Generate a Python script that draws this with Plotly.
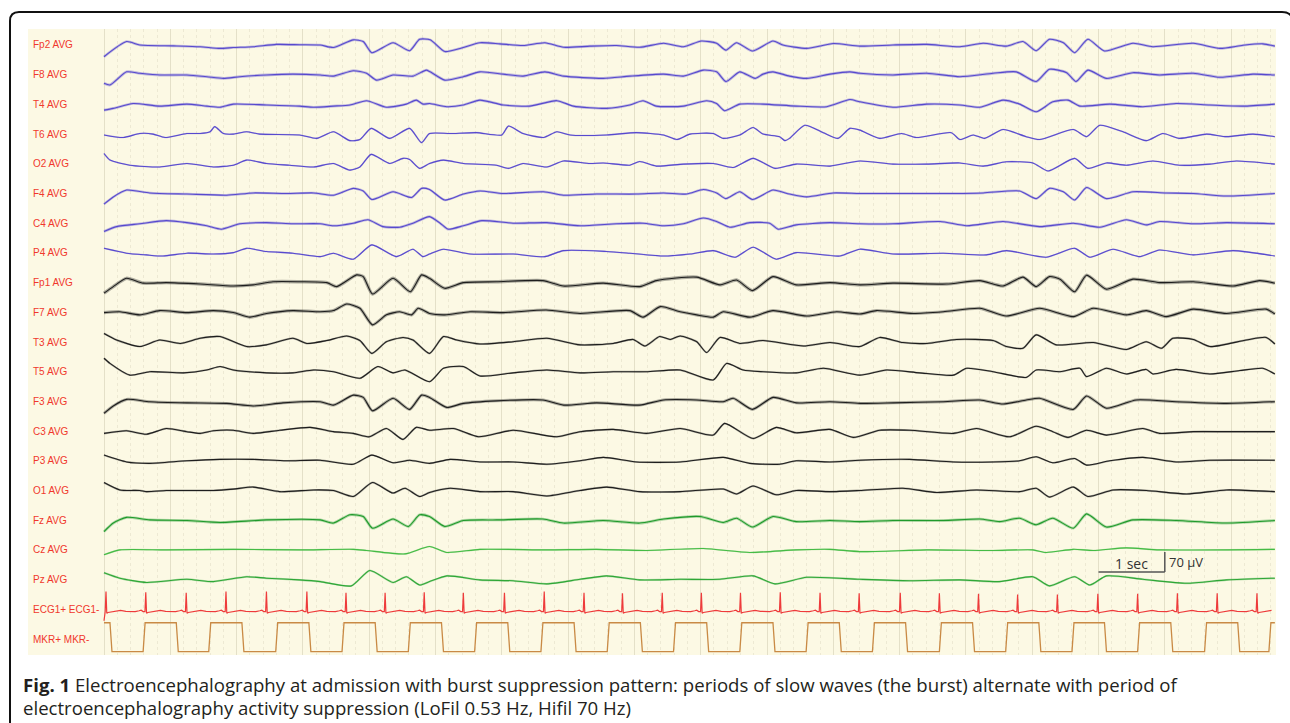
import plotly.graph_objects as go

# ---------------- data (time in s, amplitude in µV) ----------------
CHANNEL_NAMES = ["Fp2 AVG", "F8 AVG", "T4 AVG", "T6 AVG", "O2 AVG", "F4 AVG", "C4 AVG", "P4 AVG",
                 "Fp1 AVG", "F7 AVG", "T3 AVG", "T5 AVG", "F3 AVG", "C3 AVG", "P3 AVG", "O1 AVG",
                 "Fz AVG", "Cz AVG", "Pz AVG", "ECG1+ ECG1-", "MKR+ MKR-"]

FP2 = [(0,-41),(0.34,12),(0.54,0),(1.05,-3),(1.45,-6),(1.75,-12),(1.95,-9),(2.25,-6),(2.6,2),(2.95,1),(3.26,0),(3.46,-9),(3.76,18),(3.91,12),(4.04,-27),(4.36,8),(4.61,-20),(4.76,20),(4.92,18),(5.14,-23),(5.37,-12),(5.67,8),(5.97,4),(6.32,-2),(6.65,8),(6.93,-8),(7.33,-4),(7.73,-2),(8.08,-8),(8.44,6),(8.74,-6),(9.01,14),(9.24,6),(9.38,-18),(9.54,8),(9.78,-21),(10.09,14),(10.24,0),(10.6,-12),(11.0,5),(11.4,-4),(11.9,0),(12.41,2),(12.91,-6),(13.26,6),(13.61,-4),(13.86,12),(14.06,-20),(14.26,20),(14.47,8),(14.64,-27),(14.84,20),(15.09,-21),(15.52,6),(15.82,-6),(16.43,6),(16.83,-12),(17.18,-1),(17.48,4),(17.66,-4)]
F8 = [(0,-30),(0.09,-36),(0.34,10),(0.54,5),(0.84,-1),(1.25,-1),(1.55,-7),(1.8,-13),(2.05,-7),(2.45,-1),(2.85,2),(3.26,-1),(3.46,-5),(3.76,14),(3.96,5),(4.11,-19),(4.36,-1),(4.66,-5),(4.86,16),(4.92,10),(5.14,-19),(5.42,-7),(5.67,10),(6.02,2),(6.32,-5),(6.65,10),(6.93,-5),(7.53,-13),(7.93,-5),(8.44,2),(8.74,-5),(9.04,16),(9.24,10),(9.38,-24),(9.59,10),(9.82,-13),(9.94,2),(10.09,10),(10.34,-5),(10.6,-13),(10.95,2),(11.25,10),(11.4,5),(11.9,-1),(12.41,5),(12.91,-7),(13.41,5),(13.76,10),(14.06,-24),(14.26,19),(14.52,7),(14.66,-24),(14.84,16),(15.12,-13),(15.52,7),(15.92,-1),(16.43,5),(16.83,-9),(17.33,2),(17.66,-1)]
T4 = [(0,-20),(0.14,-14),(0.44,3),(0.84,-6),(1.25,1),(1.55,-6),(1.75,-10),(1.95,1),(2.45,-2),(2.95,-6),(3.16,-10),(3.46,-6),(3.71,-2),(3.96,13),(4.26,-10),(4.56,1),(4.71,15),(4.81,1),(4.91,3),(5.17,-8),(5.42,-2),(5.67,15),(6.02,-2),(6.42,-6),(6.83,13),(7.08,-6),(7.58,-14),(7.93,-2),(8.13,13),(8.33,-6),(8.74,-6),(9.09,13),(9.24,3),(9.36,-22),(9.59,1),(9.94,1),(10.44,-6),(10.9,-8),(11.25,17),(11.4,9),(11.9,-10),(12.41,1),(12.91,-2),(13.21,-10),(13.56,15),(13.81,1),(14.06,-26),(14.31,9),(14.54,15),(14.72,-6),(15.17,1),(15.67,-8),(16.17,3),(16.68,-2),(17.18,-6),(17.66,1)]
T6 = [(0,-3),(0.29,-12),(0.54,2),(0.74,0),(0.92,-12),(1.25,2),(1.45,2),(1.6,8),(1.67,26),(1.8,2),(1.95,0),(2.15,8),(2.35,0),(2.95,-3),(3.21,-15),(3.46,8),(3.71,-23),(3.86,-19),(4.03,20),(4.31,-15),(4.61,20),(4.79,-30),(4.91,2),(5.22,2),(5.62,5),(6.0,-3),(6.1,28),(6.32,2),(6.63,-12),(6.83,8),(7.03,-3),(7.58,-3),(8.03,5),(8.44,-3),(8.64,-19),(8.84,0),(9.19,2),(9.34,-15),(9.59,-3),(9.79,23),(9.94,0),(10.19,-9),(10.27,-23),(10.34,-15),(10.57,31),(10.85,5),(11.07,-15),(11.25,20),(11.4,14),(11.7,-15),(12.03,2),(12.25,-12),(12.78,5),(12.91,-19),(13.11,-3),(13.28,-15),(13.56,16),(13.91,-9),(14.11,-19),(14.62,16),(14.82,-9),(15.02,31),(15.37,8),(15.72,-23),(15.97,2),(16.22,-15),(16.63,0),(16.93,-9),(17.33,0),(17.66,-9)]
O2 = [(0,36),(0.09,13),(0.39,-5),(0.84,-11),(1.25,1),(1.65,-11),(1.95,-5),(2.15,13),(2.45,1),(2.8,-5),(3.16,-11),(3.46,1),(3.71,-22),(3.86,-11),(4.03,33),(4.31,1),(4.51,19),(4.61,15),(4.76,-16),(4.91,1),(5.12,13),(5.42,1),(5.92,-5),(6.1,-16),(6.32,1),(6.68,-11),(6.93,10),(7.33,1),(7.53,3),(7.93,-5),(8.08,8),(8.33,-8),(8.74,-1),(9.19,1),(9.49,-13),(9.79,19),(10.12,-16),(10.44,-1),(10.95,-8),(11.4,10),(11.9,-1),(12.41,-1),(12.91,3),(13.26,-8),(13.61,7),(14.01,3),(14.24,-25),(14.64,19),(14.84,-16),(15.12,3),(15.42,-5),(15.82,10),(16.22,-5),(16.68,-1),(17.08,10),(17.66,-1)]
F4 = [(0,-37),(0.14,-12),(0.34,12),(0.69,2),(1.25,-2),(1.85,-6),(2.25,2),(2.75,0),(3.16,2),(3.46,-6),(3.76,18),(3.91,9),(4.04,-21),(4.36,6),(4.64,-14),(4.79,18),(4.91,14),(5.14,-23),(5.42,-2),(5.67,9),(6.02,0),(6.63,6),(6.93,-6),(7.43,-2),(8.03,-2),(8.44,2),(8.79,-2),(9.04,14),(9.24,2),(9.38,-18),(9.59,6),(9.78,-21),(10.09,12),(10.34,-2),(10.6,-12),(11.0,2),(11.4,0),(11.9,0),(12.66,0),(13.26,2),(13.81,9),(14.06,-18),(14.26,18),(14.47,6),(14.64,-23),(14.82,21),(15.12,-18),(15.52,6),(16.02,2),(16.43,0),(16.93,-9),(17.66,0)]
C4 = [(0,-29),(0.19,-12),(0.54,-2),(0.94,9),(1.25,2),(1.55,-9),(1.77,-21),(2.05,-2),(2.45,2),(2.85,-2),(3.26,-2),(3.46,-9),(3.76,0),(3.98,12),(4.21,-12),(4.46,-14),(4.66,0),(4.91,23),(5.07,0),(5.19,-21),(5.42,-9),(5.7,9),(6.17,0),(6.68,2),(7.18,-9),(7.73,-2),(8.13,0),(8.44,-9),(8.74,-2),(9.04,18),(9.24,6),(9.44,-14),(9.74,2),(10.04,0),(10.17,-21),(10.44,-6),(10.95,2),(11.4,-2),(11.9,-2),(12.61,6),(13.01,-9),(13.56,6),(14.11,-12),(14.62,0),(15.02,-14),(15.42,12),(15.72,-6),(15.92,6),(16.43,-2),(16.93,2),(17.66,-2)]
P4 = [(0,16),(0.34,-1),(0.64,-7),(0.89,-11),(1.25,-1),(1.65,-4),(1.95,1),(2.15,16),(2.45,5),(2.85,-1),(3.26,-13),(3.46,-1),(3.76,-22),(4.04,28),(4.41,-13),(4.66,13),(4.81,-13),(4.91,-4),(5.12,13),(5.52,-4),(6.17,-4),(6.65,-13),(6.93,8),(7.58,5),(7.93,-1),(8.44,-11),(8.84,-4),(9.19,8),(9.52,-15),(9.79,20),(10.14,-22),(10.44,1),(11.1,-11),(11.4,13),(11.9,-4),(12.66,-1),(13.31,-7),(13.61,8),(14.21,-15),(14.64,16),(14.87,-15),(15.22,13),(15.62,-13),(15.92,10),(16.43,-7),(17.03,8),(17.66,-11)]
FP1 = [(0,-37),(0.14,-14),(0.34,15),(0.59,-2),(0.94,0),(1.45,-5),(1.95,-12),(2.25,-8),(2.55,3),(2.95,3),(3.36,0),(3.51,-14),(3.81,27),(3.91,21),(4.05,-40),(4.36,15),(4.62,-32),(4.79,27),(4.91,15),(5.14,-20),(5.42,0),(5.92,3),(6.62,7),(6.93,-12),(7.53,-2),(8.08,-14),(8.33,7),(8.94,19),(9.29,-8),(9.54,9),(9.78,-28),(10.09,21),(10.44,-8),(10.95,0),(11.4,-8),(11.9,-2),(12.71,-5),(13.21,7),(13.56,-12),(13.86,19),(14.06,-14),(14.26,21),(14.42,12),(14.64,-32),(14.82,26),(15.12,-23),(15.52,12),(15.92,0),(16.43,3),(17.03,-12),(17.43,7),(17.66,-2)]
F7 = [(0,-1),(0.24,2),(0.54,-9),(0.84,6),(1.25,-1),(1.65,6),(1.95,-1),(2.2,-17),(2.45,-4),(2.85,6),(3.26,2),(3.46,6),(3.66,29),(3.86,14),(4.05,-44),(4.26,-9),(4.46,2),(4.64,-9),(4.74,14),(4.91,-4),(5.14,-9),(5.52,2),(6.02,-1),(6.67,8),(7.18,-4),(7.93,6),(8.13,-17),(8.39,20),(8.69,2),(8.94,-9),(9.19,-17),(9.34,2),(9.74,-17),(10.09,6),(10.6,-13),(11.05,2),(11.4,-6),(11.65,6),(12.2,-4),(12.66,2),(13.21,14),(13.61,-13),(14.11,14),(14.62,-15),(14.92,14),(15.42,-9),(15.72,6),(16.02,-15),(16.43,11),(16.93,-4),(17.53,11),(17.66,-6)]
T3 = [(0,30),(0.19,7),(0.54,-16),(0.84,7),(1.15,-5),(1.45,13),(1.75,19),(2.15,-16),(2.45,-10),(2.85,13),(3.06,-5),(3.36,5),(3.66,21),(3.86,5),(4.04,-40),(4.26,1),(4.51,16),(4.66,7),(4.91,-40),(5.12,19),(5.32,7),(5.67,-7),(6.17,1),(6.68,13),(7.18,-10),(7.68,-5),(7.98,9),(8.16,-14),(8.38,19),(8.54,9),(8.69,21),(8.94,1),(9.09,-37),(9.29,16),(9.59,-5),(9.94,5),(10.55,-14),(10.95,-2),(11.4,-16),(11.7,16),(12.05,-2),(12.41,-5),(12.86,9),(13.41,5),(13.61,-16),(13.86,-22),(14.06,25),(14.36,-10),(14.92,-2),(15.42,-26),(15.72,1),(15.95,-22),(16.12,13),(16.43,9),(16.68,-16),(17.23,7),(17.53,16),(17.66,-7)]
T5 = [(0,47),(0.09,29),(0.39,-12),(0.69,0),(1.2,-4),(1.55,6),(1.75,18),(1.95,6),(2.45,-4),(2.85,-4),(3.16,6),(3.46,0),(3.86,-23),(4.13,18),(4.36,-4),(4.54,6),(4.91,-35),(5.12,12),(5.42,18),(5.67,-15),(6.17,-4),(6.68,6),(7.18,-4),(7.68,0),(8.18,0),(8.69,6),(9.19,-29),(9.39,29),(9.64,6),(9.94,0),(10.44,-4),(10.85,12),(11.4,-12),(11.8,6),(12.3,-4),(12.81,-12),(13.01,12),(13.41,0),(13.91,-20),(14.06,6),(14.42,0),(14.72,12),(14.82,-17),(15.12,12),(15.42,-8),(15.72,8),(15.82,-8),(16.17,8),(16.68,-8),(17.13,4),(17.48,12),(17.66,-8)]
F3 = [(0,-42),(0.14,-16),(0.34,7),(0.69,-1),(1.25,-5),(1.85,-7),(2.25,-16),(2.7,-5),(3.26,-1),(3.46,-13),(3.76,22),(3.91,14),(4.05,-33),(4.36,11),(4.61,-28),(4.79,22),(4.91,14),(5.17,-21),(5.42,-7),(5.92,2),(6.62,5),(6.93,-13),(7.43,-5),(8.08,-13),(8.44,5),(8.94,5),(9.34,-1),(9.49,11),(9.78,-28),(10.09,14),(10.44,-5),(10.95,-1),(11.4,-7),(11.9,-5),(12.66,-1),(13.21,5),(13.56,-9),(13.91,5),(14.11,11),(14.62,-28),(14.82,19),(15.12,-24),(15.57,5),(16.17,-1),(16.93,-7),(17.66,-1)]
C3 = [(0,-8),(0.34,1),(0.64,-11),(0.94,9),(1.25,-2),(1.45,-8),(1.65,1),(1.95,3),(2.25,-8),(2.65,3),(3.11,13),(3.46,-2),(3.76,-8),(4.0,-20),(4.26,9),(4.51,-29),(4.71,13),(4.91,3),(5.27,9),(5.65,-20),(6.17,3),(6.83,-20),(7.18,-2),(7.68,6),(8.18,-8),(8.69,9),(9.19,-14),(9.36,27),(9.79,-26),(10.14,13),(10.44,-6),(10.95,6),(11.3,-22),(11.7,3),(12.15,3),(12.81,-8),(13.16,9),(13.66,-20),(14.06,17),(14.31,-2),(14.54,-22),(14.82,3),(15.12,-14),(15.67,9),(15.92,-8),(16.43,-2),(16.93,-2),(17.66,-2)]
P3 = [(0,20),(0.34,-4),(0.69,-9),(1.25,0),(1.75,5),(2.25,5),(2.75,0),(3.26,2),(3.76,-12),(4.04,20),(4.36,-7),(4.61,2),(4.91,-9),(5.22,5),(5.67,-4),(6.17,-4),(6.68,-12),(7.18,0),(7.53,12),(8.03,-4),(8.69,-4),(9.34,12),(9.74,-9),(10.19,-12),(10.44,0),(10.95,-4),(11.4,2),(12.15,5),(12.81,-4),(13.41,-4),(13.81,0),(14.06,14),(14.31,-7),(14.64,8),(14.82,-15),(15.17,0),(15.67,12),(16.17,-4),(16.68,2),(17.66,2)]
O1 = [(0,28),(0.24,2),(0.54,0),(0.64,-4),(0.94,0),(1.25,0),(1.65,0),(1.95,5),(2.25,12),(2.65,-4),(3.16,2),(3.46,0),(3.76,-21),(4.05,28),(4.36,-9),(4.54,8),(4.76,-21),(4.91,-7),(5.22,8),(5.67,-4),(6.17,-4),(6.68,-19),(7.18,0),(7.58,12),(8.08,-4),(8.69,-4),(9.34,5),(9.54,-12),(9.79,16),(10.14,-15),(10.44,0),(10.95,-4),(11.4,0),(12.05,8),(12.56,-7),(13.16,2),(13.81,-4),(14.06,8),(14.26,-23),(14.62,12),(14.84,-21),(15.22,2),(15.72,0),(16.33,-12),(16.93,2),(17.66,-4)]
FZ = [(0,-40),(0.14,-10),(0.34,10),(0.69,1),(1.25,-1),(1.75,-8),(2.45,1),(3.26,1),(3.46,-10),(3.71,19),(3.91,13),(4.05,-28),(4.36,4),(4.59,-22),(4.76,19),(4.91,13),(5.14,-22),(5.42,-1),(5.92,1),(6.62,4),(6.93,-10),(7.53,-1),(8.08,-10),(8.44,4),(8.99,13),(9.34,-8),(9.54,7),(9.78,-24),(10.09,13),(10.44,-5),(10.95,-1),(11.4,-5),(11.9,-1),(12.66,-1),(13.21,4),(13.51,-5),(13.81,7),(14.06,-16),(14.31,7),(14.62,-28),(14.82,22),(15.12,-24),(15.52,1),(16.17,-1),(16.93,-10),(17.66,-1)]
CZ = [(0,-17),(0.24,0),(0.94,0),(1.95,2),(2.95,0),(3.76,2),(3.96,-2),(4.54,-14),(4.91,12),(5.17,-9),(5.67,2),(6.68,0),(7.43,2),(8.18,-2),(9.04,5),(9.74,-9),(10.44,0),(10.95,2),(11.4,-6),(12.41,0),(13.41,-2),(14.01,0),(14.21,-9),(14.62,2),(14.92,-2),(15.42,7),(15.92,0),(17.66,2)]
PZ = [(0,24),(0.24,5),(0.64,-10),(1.25,1),(1.65,-7),(2.15,10),(2.45,5),(2.95,-1),(3.26,-7),(3.73,-22),(4.01,32),(4.36,-10),(4.56,10),(4.76,-19),(4.91,-7),(5.17,13),(5.67,-1),(6.17,-4),(6.68,-15),(7.18,1),(7.58,13),(8.08,-1),(8.69,1),(9.29,1),(9.79,13),(10.12,-15),(10.6,8),(11.4,1),(12.15,-4),(12.91,-1),(13.51,-7),(14.01,10),(14.26,-22),(14.64,10),(14.87,-19),(15.12,13),(15.67,1),(16.33,-13),(16.93,-1),(17.66,5)]

# ECG: R-peak times (s) and R amplitude (µV); one PQRST complex shape (offset s, µV)
ECG_R_TIMES = [0.03, 0.63, 1.24, 1.84, 2.45, 3.06, 3.65, 4.24, 4.83, 5.42, 6.04, 6.64, 7.24, 7.82, 8.42,
               9.01, 9.60, 10.20, 10.80, 11.39, 12.01, 12.60, 13.19, 13.78, 14.38, 14.99, 15.59, 16.19, 16.79, 17.39]
ECG_R_AMP = [70, 68, 66, 70, 70, 70, 66, 66, 68, 66, 66, 70, 66, 64, 66, 66, 66, 68, 66, 64,
             66, 64, 62, 60, 60, 62, 62, 64, 64, 64]
ECG_BEAT_DT = [-0.16, -0.10, -0.07, -0.04, -0.012, 0.0, 0.012, 0.03, 0.12, 0.22, 0.30, 0.40]
ECG_BEAT_V = [0, 3, 5, 0, 0, None, -6, -3, 0, 4, 1, 0]
ECG_BASELINE = -8

# Marker channel: edge times (s) and levels (µV)
MKR_FALL = [0.09, 1.09, 2.08, 3.09, 4.09, 5.09, 6.09, 7.09, 8.09, 9.09, 10.09, 11.09, 12.09, 13.10, 14.10, 15.09, 16.09, 17.10]
MKR_RISE = [0.59, 1.58, 2.59, 3.59, 4.59, 5.59, 6.59, 7.59, 8.59, 9.59, 10.59, 11.59, 12.60, 13.60, 14.60, 15.59, 16.60, 17.57]
MKR_HIGH, MKR_LOW = 57, -44
T_END = 17.66

SCALE_SEC, SCALE_UV = 1, 70

# ---------------- styling ----------------
SPACING = 104          # µV between channel baselines
BLUE, BLACK = "#5749CE", "#1E1E1E"
EEG = [FP2, F8, T4, T6, O2, F4, C4, P4, FP1, F7, T3, T5, F3, C3, P3, O1, FZ, CZ, PZ]
COLORS = [BLUE] * 8 + [BLACK] * 8 + ["#1F9A2B", "#45BB45", "#2FA737"]
FUZZ = [2.6, 2.8, 2.6, 1.6, 1.6, 2.4, 2.6, 1.6, 3.4, 3.2, 2.0, 1.8, 3.0, 2.0, 1.8, 2.0, 2.8, 1.6, 2.0]

fig = go.Figure()
for i, (data, col, fz) in enumerate(zip(EEG, COLORS, FUZZ)):
    t = [p[0] for p in data]
    y = [-i * SPACING + p[1] for p in data]
    fig.add_trace(go.Scatter(x=t, y=y, mode="lines", opacity=0.35,
                             line=dict(color=col, width=fz, shape="spline", smoothing=0.6),
                             hoverinfo="skip", showlegend=False))
    fig.add_trace(go.Scatter(x=t, y=y, mode="lines",
                             line=dict(color=col, width=1.1, shape="spline", smoothing=0.6),
                             hoverinfo="skip", showlegend=False))

# ECG
ecg_off = -19 * SPACING
ex, ey = [0.0], [ecg_off - 40]
for rt, ra in zip(ECG_R_TIMES, ECG_R_AMP):
    for dt, dv in zip(ECG_BEAT_DT, ECG_BEAT_V):
        tt = rt + dt
        if tt < 0.001 or tt > T_END:
            continue
        ex.append(tt)
        ey.append(ecg_off + ECG_BASELINE + (ra if dv is None else dv))
fig.add_trace(go.Scatter(x=ex, y=ey, mode="lines", line=dict(color="#EE3B3B", width=1.2),
                         hoverinfo="skip", showlegend=False))

# Marker square wave
mk_off = -20 * SPACING
edges = sorted([(t, MKR_LOW) for t in MKR_FALL] + [(t, MKR_HIGH) for t in MKR_RISE])
mx, my, lvl = [0.0], [mk_off + MKR_HIGH], MKR_HIGH
for t, new in edges:
    mx += [t, t + 0.03]
    my += [mk_off + lvl, mk_off + new]
    lvl = new
mx.append(T_END)
my.append(mk_off + lvl)
fig.add_trace(go.Scatter(x=mx, y=my, mode="lines", line=dict(color="#C98A45", width=1.3),
                         hoverinfo="skip", showlegend=False))

# ---------------- layout ----------------
W, H = 1290, 723
ML, MR, MT, MB = 28, 14, 29, 68
PW, PH = W - ML - MR, H - MT - MB
def xp(px): return (px - ML) / PW
def yp(py): return (H - MB - py) / PH

annotations = []
for i, name in enumerate(CHANNEL_NAMES):
    annotations.append(dict(xref="paper", x=xp(31), yref="y", y=-i * SPACING, text=name,
                            showarrow=False, xanchor="left", yanchor="middle",
                            font=dict(family="Arial, Liberation Sans", size=10, color="#F0382C")))

# scale bar
sb_t0, sb_y = 15.0, -1845
annotations.append(dict(x=sb_t0 + SCALE_SEC / 2, y=sb_y + 28, text="1 sec", showarrow=False,
                        font=dict(family="Open Sans", size=14, color="#333333")))
annotations.append(dict(x=sb_t0 + SCALE_SEC + 0.04, y=sb_y + 36, text="70 µV", showarrow=False,
                        xanchor="left", font=dict(family="Open Sans", size=13, color="#333333")))

# caption
annotations.append(dict(xref="paper", yref="paper", x=xp(21), y=yp(684), xanchor="left", yanchor="middle",
                        showarrow=False,
                        text="<b>Fig. 1</b> Electroencephalography at admission with burst suppression pattern: "
                             "periods of slow waves (the burst) alternate with period of",
                        font=dict(family="Open Sans", size=18.6, color="#231F20")))
annotations.append(dict(xref="paper", yref="paper", x=xp(21), y=yp(707), xanchor="left", yanchor="middle",
                        showarrow=False,
                        text="electroencephalography activity suppression (LoFil 0.53 Hz, Hifil 70 Hz)",
                        font=dict(family="Open Sans", size=18.6, color="#231F20")))

border = (f"M {xp(10)},{yp(730)} L {xp(10)},{yp(21)} Q {xp(10)},{yp(12)} {xp(19)},{yp(12)} "
          f"L {xp(1282)},{yp(12)} Q {xp(1293)},{yp(12)} {xp(1293)},{yp(23)} L {xp(1293)},{yp(730)}")
shapes = [
    dict(type="path", xref="paper", yref="paper", path=border, line=dict(color="#111111", width=2)),
    dict(type="line", x0=sb_t0, x1=sb_t0 + SCALE_SEC, y0=sb_y, y1=sb_y, line=dict(color="#555555", width=1.5)),
    dict(type="line", x0=sb_t0 + SCALE_SEC, x1=sb_t0 + SCALE_SEC, y0=sb_y, y1=sb_y + SCALE_UV,
         line=dict(color="#555555", width=1.5)),
]

t_min = -(104 - ML) / 66.3
t_max = t_min + PW / 66.3
fig.update_layout(
    width=W, height=H, autosize=False,
    margin=dict(l=ML, r=MR, t=MT, b=MB),
    paper_bgcolor="white", plot_bgcolor="#FCF9E4",
    xaxis=dict(range=[t_min, t_max], showticklabels=False, zeroline=False, ticks="",
               tickmode="array", tickvals=list(range(0, 18)), showgrid=True,
               gridcolor="#E4E0C8", gridwidth=1,
               minor=dict(tickmode="array",
                          tickvals=[k / 5 for k in range(0, 89) if k % 5 != 0],
                          showgrid=True, gridcolor="#EDE9D3", griddash="dot", gridwidth=1)),
    yaxis=dict(range=[-20 * SPACING - 56, 56], showticklabels=False, showgrid=False,
               zeroline=False, ticks=""),
    annotations=annotations, shapes=shapes,
)

fig.write_html("out.html", config={"displayModeBar": False},
               post_script="document.body.style.margin='0';document.body.style.overflow='hidden';")
